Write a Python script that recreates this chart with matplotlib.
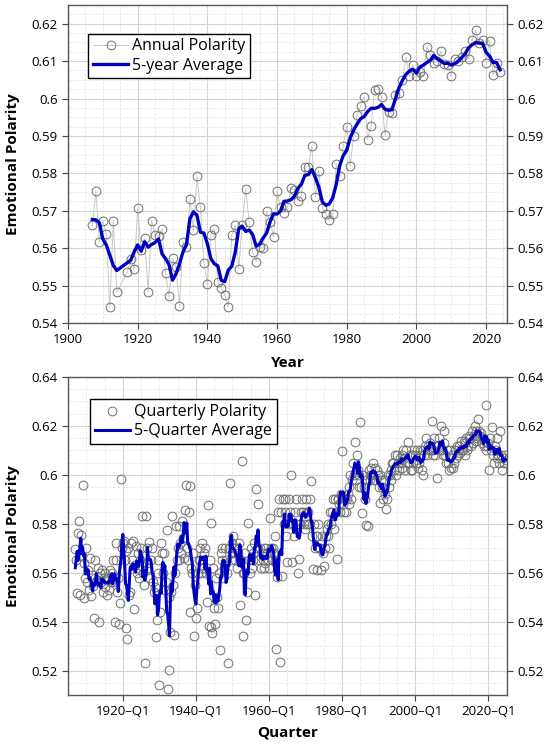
import matplotlib.pyplot as plt
import numpy as np
import pandas as pd
from matplotlib.ticker import MultipleLocator, FuncFormatter

plt.rcParams['font.family'] = ['Open Sans', 'DejaVu Sans']

# annual polarity (1915 and 1916 have no value)
years = [1907, 1908, 1909, 1910, 1911, 1912, 1913, 1914, 1917, 1918, 1919,
         1920, 1921, 1922, 1923, 1924, 1925, 1926, 1927, 1928, 1929,
         1930, 1931, 1932, 1933, 1934, 1935, 1936, 1937, 1938, 1939,
         1940, 1941, 1942, 1943, 1944, 1945, 1946, 1947, 1948, 1949,
         1950, 1951, 1952, 1953, 1954, 1955, 1956, 1957, 1958, 1959,
         1960, 1961, 1962, 1963, 1964, 1965, 1966, 1967, 1968, 1969,
         1970, 1971, 1972, 1973, 1974, 1975, 1976, 1977, 1978, 1979,
         1980, 1981, 1982, 1983, 1984, 1985, 1986, 1987, 1988, 1989,
         1990, 1991, 1992, 1993, 1994, 1995, 1996, 1997, 1998, 1999,
         2000, 2001, 2002, 2003, 2004, 2005, 2006, 2007, 2008, 2009,
         2010, 2011, 2012, 2013, 2014, 2015, 2016, 2017, 2018, 2019,
         2020, 2021, 2022, 2023, 2024]
annual = [0.5661, 0.5752, 0.5617, 0.5673, 0.5637, 0.5442, 0.5673, 0.5482, 0.5535, 0.5570, 0.5545,
          0.5707, 0.5596, 0.5626, 0.5484, 0.5673, 0.5635, 0.5632, 0.5652, 0.5533, 0.5471,
          0.5573, 0.5550, 0.5446, 0.5617, 0.5604, 0.5732, 0.5648, 0.5792, 0.5710, 0.5561,
          0.5504, 0.5635, 0.5651, 0.5509, 0.5493, 0.5475, 0.5442, 0.5635, 0.5661, 0.5545,
          0.5661, 0.5758, 0.5670, 0.5590, 0.5564, 0.5602, 0.5600, 0.5699, 0.5670, 0.5630,
          0.5752, 0.5709, 0.5695, 0.5710, 0.5760, 0.5756, 0.5727, 0.5740, 0.5816, 0.5818,
          0.5872, 0.5738, 0.5807, 0.5708, 0.5692, 0.5674, 0.5692, 0.5825, 0.5792, 0.5873,
          0.5925, 0.5820, 0.5900, 0.5956, 0.5980, 0.6005, 0.5890, 0.5927, 0.6023, 0.6025,
          0.6004, 0.5903, 0.5965, 0.5960, 0.6010, 0.6014, 0.6050, 0.6110, 0.6059, 0.6090,
          0.6060, 0.6072, 0.6059, 0.6139, 0.6117, 0.6095, 0.6100, 0.6126, 0.6093, 0.6090,
          0.6059, 0.6105, 0.6100, 0.6110, 0.6126, 0.6105, 0.6157, 0.6182, 0.6148, 0.6157,
          0.6096, 0.6155, 0.6063, 0.6096, 0.6072]

# quarterly polarity, one row per year (Q1..Q4), 1907-2024
quarter_years = list(range(1907, 2025))
quarterly = [
    [0.5695, 0.5650, 0.5516, 0.5763], [0.5812, 0.5510, 0.5753, 0.5670],
    [0.5960, 0.5495, 0.5640, 0.5580], [0.5700, 0.5560, 0.5610, 0.5530],
    [0.5660, 0.5505, 0.5590, 0.5545], [0.5413, 0.5580, 0.5650, 0.5560],
    [0.5570, 0.5620, 0.5399, 0.5600], [0.5560, 0.5610, 0.5520, 0.5580],
    [0.5540, 0.5600, 0.5570, 0.5510], [0.5580, 0.5530, 0.5610, 0.5560],
    [0.5600, 0.5650, 0.5560, 0.5399], [0.5723, 0.5650, 0.5520, 0.5580],
    [0.5390, 0.5475, 0.5983, 0.5700], [0.5720, 0.5730, 0.5650, 0.5690],
    [0.5372, 0.5331, 0.5700, 0.5510], [0.5520, 0.5721, 0.5650, 0.5730],
    [0.5450, 0.5630, 0.5710, 0.5600], [0.5620, 0.5680, 0.5580, 0.5650],
    [0.5700, 0.5832, 0.5600, 0.5550], [0.5231, 0.5832, 0.5640, 0.5700],
    [0.5620, 0.5725, 0.5580, 0.5650], [0.5700, 0.5560, 0.5520, 0.5540],
    [0.5338, 0.5406, 0.5600, 0.5650], [0.5140, 0.5440, 0.5720, 0.5680],
    [0.5600, 0.5680, 0.5530, 0.5560], [0.5775, 0.5126, 0.5204, 0.5500],
    [0.5358, 0.5520, 0.5832, 0.5550], [0.5347, 0.5600, 0.5791, 0.5650],
    [0.5700, 0.5650, 0.5791, 0.5720], [0.5680, 0.5810, 0.5740, 0.5660],
    [0.5855, 0.5960, 0.5700, 0.5650], [0.5850, 0.5440, 0.5955, 0.5620],
    [0.5600, 0.5680, 0.5340, 0.5550], [0.5413, 0.5455, 0.5600, 0.5650],
    [0.5700, 0.5650, 0.5600, 0.5720], [0.5620, 0.5680, 0.5700, 0.5600],
    [0.5481, 0.5877, 0.5381, 0.5650], [0.5380, 0.5803, 0.5352, 0.5620],
    [0.5455, 0.5390, 0.5580, 0.5500], [0.5455, 0.5600, 0.5283, 0.5680],
    [0.5650, 0.5700, 0.5580, 0.5620], [0.5700, 0.5650, 0.5600, 0.5229],
    [0.5700, 0.5966, 0.5650, 0.5720], [0.5680, 0.5750, 0.5700, 0.5650],
    [0.5700, 0.5620, 0.5680, 0.5720], [0.5470, 0.5650, 0.6055, 0.5600],
    [0.5341, 0.5600, 0.5680, 0.5406], [0.5520, 0.5803, 0.5650, 0.5600],
    [0.5700, 0.5620, 0.5680, 0.5650], [0.5720, 0.5510, 0.5943, 0.5700],
    [0.5882, 0.5650, 0.5700, 0.5620], [0.5680, 0.5650, 0.5700, 0.5620],
    [0.5640, 0.5700, 0.5680, 0.5650], [0.5620, 0.5823, 0.5700, 0.5650],
    [0.5700, 0.5680, 0.5750, 0.5650], [0.5289, 0.5581, 0.5850, 0.5900],
    [0.5234, 0.5850, 0.5585, 0.5900], [0.5800, 0.5900, 0.5850, 0.5750],
    [0.5645, 0.5800, 0.5900, 0.5850], [0.6000, 0.5645, 0.5800, 0.5750],
    [0.5850, 0.5780, 0.5900, 0.5800], [0.5600, 0.5655, 0.5800, 0.5850],
    [0.5900, 0.5850, 0.5800, 0.5780], [0.5900, 0.5850, 0.5800, 0.5850],
    [0.5800, 0.5900, 0.5973, 0.5750], [0.5614, 0.5800, 0.5700, 0.5750],
    [0.5610, 0.5750, 0.5800, 0.5700], [0.5700, 0.5610, 0.5750, 0.5680],
    [0.5626, 0.5700, 0.5750, 0.5780], [0.5800, 0.5750, 0.5700, 0.5850],
    [0.5800, 0.5850, 0.5900, 0.5780], [0.5900, 0.5850, 0.5655, 0.5900],
    [0.5900, 0.5880, 0.5850, 0.5920], [0.6096, 0.5880, 0.5850, 0.5900],
    [0.5850, 0.5900, 0.5920, 0.5880], [0.5950, 0.6000, 0.5900, 0.5980],
    [0.6050, 0.6000, 0.6133, 0.5980], [0.6082, 0.6020, 0.5950, 0.6000],
    [0.6215, 0.5950, 0.5846, 0.6000], [0.5950, 0.5900, 0.5795, 0.5980],
    [0.5790, 0.6020, 0.6000, 0.5980], [0.6030, 0.6000, 0.6050, 0.5980],
    [0.6030, 0.5980, 0.6020, 0.6000], [0.5950, 0.5884, 0.6000, 0.5980],
    [0.5950, 0.5900, 0.5980, 0.5920], [0.5860, 0.5900, 0.6000, 0.5950],
    [0.6000, 0.6020, 0.5980, 0.6050], [0.6050, 0.6020, 0.6080, 0.6000],
    [0.6080, 0.6050, 0.6020, 0.6070], [0.6050, 0.6080, 0.6030, 0.6100],
    [0.6070, 0.6020, 0.6100, 0.6050], [0.6133, 0.6050, 0.6080, 0.6020],
    [0.6020, 0.6080, 0.6050, 0.6100], [0.6080, 0.6050, 0.6100, 0.6030],
    [0.6050, 0.6100, 0.6080, 0.6020], [0.6000, 0.6100, 0.6080, 0.6120],
    [0.6150, 0.6080, 0.6120, 0.6100], [0.6130, 0.6100, 0.6219, 0.6080],
    [0.6100, 0.6150, 0.6080, 0.6120], [0.5987, 0.6120, 0.6150, 0.6100],
    [0.6201, 0.6100, 0.6080, 0.6130], [0.6180, 0.6080, 0.6050, 0.6100],
    [0.6050, 0.6020, 0.6100, 0.6030], [0.6080, 0.6030, 0.6050, 0.6100],
    [0.6100, 0.6070, 0.6120, 0.6080], [0.6120, 0.6090, 0.6140, 0.6100],
    [0.6100, 0.6140, 0.6080, 0.6130], [0.6150, 0.6100, 0.6120, 0.6160],
    [0.6150, 0.6120, 0.6180, 0.6130], [0.6160, 0.6200, 0.6140, 0.6180],
    [0.6150, 0.6229, 0.6180, 0.6160], [0.6170, 0.6130, 0.6150, 0.6120],
    [0.6140, 0.6100, 0.6287, 0.6120], [0.6130, 0.6018, 0.6150, 0.6100],
    [0.6195, 0.6080, 0.6050, 0.6120], [0.6100, 0.6070, 0.6150, 0.6080],
    [0.6050, 0.6178, 0.6080, 0.6020], [0.6070, 0.6050, 0.6080, 0.6060],
]

q_x = np.array([y + q / 4 for y in quarter_years for q in range(4)])
q_vals = np.array(quarterly).ravel()

annual_avg = pd.Series(annual).rolling(5, center=True, min_periods=1).mean()
quarter_avg = pd.Series(q_vals).rolling(5, center=True, min_periods=1).mean()

blue = '#0000c0'
fig = plt.figure(figsize=(5.48, 7.47), dpi=100)
ax1 = fig.add_axes([0.1241, 0.5676, 0.801, 0.4257])
ax2 = fig.add_axes([0.1241, 0.0696, 0.801, 0.4257])


def style(ax):
    ax.grid(True, which='major', color='#d4d4d4', lw=0.8)
    ax.grid(True, which='minor', color='#e8e8e8', lw=0.6, ls='--')
    ax.set_axisbelow(True)
    for s in ax.spines.values():
        s.set_color('#555555')
        s.set_linewidth(1.0)
    ax.tick_params(which='major', direction='out', length=4, width=0.8,
                   color='#444444', labelsize=9.5, left=True, right=True,
                   labelleft=True, labelright=True, top=False)
    ax.tick_params(which='minor', length=0)
    ax.yaxis.set_major_formatter(FuncFormatter(lambda v, p: f'{v:g}'))
    ax.set_ylabel('Emotional Polarity', fontsize=11, fontweight='bold', labelpad=8)


leg_kw = dict(loc='upper left', fontsize=11.5, frameon=True, fancybox=False,
              edgecolor='black', framealpha=1, handlelength=2.2, borderpad=0.3,
              labelspacing=0.2, handletextpad=0.25)

# top: annual
ax1.plot(years, annual, color='#c8c8c8', lw=0.7, marker='o', ms=6.3,
         mfc='none', mec='#707070', mew=0.7, label='Annual Polarity', zorder=2)
ax1.plot(years, annual_avg, color=blue, lw=2.4, label='5-year Average', zorder=3)
ax1.set_xlim(1900, 2026)
ax1.set_ylim(0.54, 0.625)
ax1.xaxis.set_major_locator(MultipleLocator(20))
ax1.xaxis.set_minor_locator(MultipleLocator(5))
ax1.yaxis.set_major_locator(MultipleLocator(0.01))
ax1.yaxis.set_minor_locator(MultipleLocator(0.0025))
style(ax1)
ax1.set_xlabel('Year', fontsize=11, fontweight='bold', labelpad=7)
ax1.legend(bbox_to_anchor=(0.028, 0.935), **leg_kw)

# bottom: quarterly
ax2.plot(q_x, q_vals, ls='none', marker='o', ms=6.3, mfc='none', mec='#707070',
         mew=0.7, label='Quarterly Polarity', zorder=2)
ax2.plot(q_x, quarter_avg, color=blue, lw=2.2, label='5-Quarter Average', zorder=3)
ax2.set_xlim(1905.0, 2025.1)
ax2.set_ylim(0.51, 0.64)
ax2.set_xticks([1920, 1940, 1960, 1980, 2000, 2020])
ax2.set_xticklabels([f'{y}\u2013Q1' for y in [1920, 1940, 1960, 1980, 2000, 2020]])
ax2.xaxis.set_minor_locator(MultipleLocator(5))
ax2.yaxis.set_major_locator(MultipleLocator(0.02))
ax2.yaxis.set_minor_locator(MultipleLocator(0.005))
style(ax2)
ax2.set_xlabel('Quarter', fontsize=11, fontweight='bold', labelpad=5)
ax2.legend(bbox_to_anchor=(0.032, 0.955), **leg_kw)

fig.savefig('out.png', dpi=100)
